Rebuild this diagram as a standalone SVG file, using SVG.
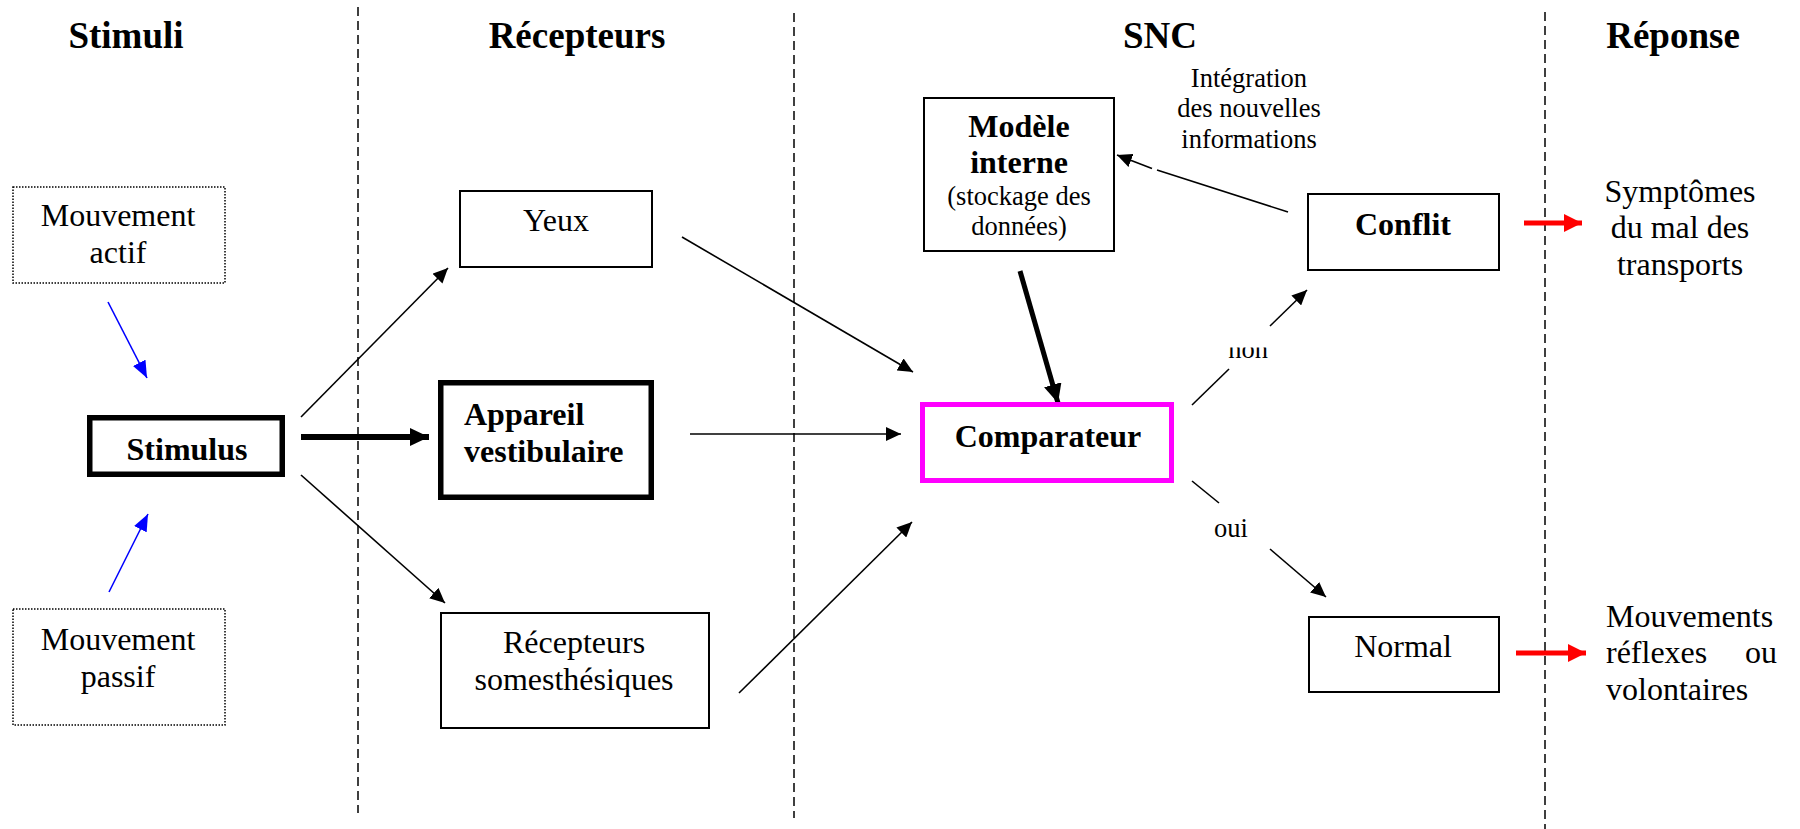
<svg xmlns="http://www.w3.org/2000/svg" width="1800" height="829" viewBox="0 0 1800 829">
  <style>
    text { font-family: "Liberation Serif", "Times New Roman", serif; fill: #000; }
    .head { font-size: 37px; font-weight: bold; text-anchor: middle; }
    .t { font-size: 32px; text-anchor: middle; }
    .b { font-size: 32px; font-weight: bold; text-anchor: middle; }
    .s { font-size: 26.5px; text-anchor: middle; }
    .box { fill: #fff; stroke: #000; stroke-width: 2; }
    .thick { fill: #fff; stroke: #000; stroke-width: 5.5; }
    .dotted { fill: #fff; stroke: #000; stroke-width: 1.5; stroke-dasharray: 1.5 1.5; }
    .sep { stroke: #000; stroke-width: 1.5; stroke-dasharray: 9 5; fill: none; }
    .ln { stroke: #000; stroke-width: 1.6; fill: none; }
  </style>
  <defs>
    <marker id="ah" markerUnits="userSpaceOnUse" markerWidth="16" markerHeight="14" refX="15" refY="7" orient="auto">
      <path d="M0,0 L15,7 L0,14 z" fill="#000"/>
    </marker>
    <marker id="ahBig" markerUnits="userSpaceOnUse" markerWidth="20" markerHeight="18" refX="19" refY="9" orient="auto">
      <path d="M0,0 L19,9 L0,18 z" fill="#000"/>
    </marker>
    <marker id="ahBlue" markerUnits="userSpaceOnUse" markerWidth="18" markerHeight="14" refX="17" refY="7" orient="auto">
      <path d="M0,0 L17,7 L0,14 z" fill="#0000ff"/>
    </marker>
    <marker id="ahRed" markerUnits="userSpaceOnUse" markerWidth="19" markerHeight="19" refX="18" refY="9" orient="auto">
      <path d="M0,0 L18,9 L0,18 z" fill="#ff0000"/>
    </marker>
    <clipPath id="clipNon">
      <rect x="1220" y="347.5" width="60" height="20"/>
    </clipPath>
  </defs>

  <rect width="1800" height="829" fill="#fff"/>

  <!-- column separators -->
  <g id="separators">
    <line class="sep" x1="358" y1="7" x2="358" y2="813"/>
    <line class="sep" x1="794" y1="13" x2="794" y2="818"/>
    <line class="sep" x1="1545" y1="12" x2="1545" y2="829"/>
  </g>

  <!-- column headings -->
  <g id="headings">
    <text class="head" x="126" y="48">Stimuli</text>
    <text class="head" x="577" y="48">Récepteurs</text>
    <text class="head" x="1160" y="48">SNC</text>
    <text class="head" x="1673" y="48">Réponse</text>
  </g>

  <!-- connectors -->
  <g id="connectors">
    <line x1="108" y1="302" x2="147" y2="378" stroke="#0000ff" stroke-width="1.6" marker-end="url(#ahBlue)"/>
    <line x1="109" y1="592" x2="148" y2="514" stroke="#0000ff" stroke-width="1.6" marker-end="url(#ahBlue)"/>
    <line class="ln" x1="301" y1="417" x2="448" y2="268" marker-end="url(#ah)"/>
    <line x1="301" y1="437" x2="429" y2="437" stroke="#000" stroke-width="6" marker-end="url(#ahBig)"/>
    <line class="ln" x1="301" y1="475" x2="445" y2="603" marker-end="url(#ah)"/>
    <line class="ln" x1="682" y1="237" x2="913" y2="372" marker-end="url(#ah)"/>
    <line class="ln" x1="690" y1="434" x2="901" y2="434" marker-end="url(#ah)"/>
    <line class="ln" x1="739" y1="693" x2="912" y2="522" marker-end="url(#ah)"/>
    <line x1="1020" y1="271" x2="1058" y2="403" stroke="#000" stroke-width="5" marker-end="url(#ahBig)"/>
    <line class="ln" x1="1288" y1="212" x2="1157" y2="170"/>
    <line class="ln" x1="1152" y1="168.5" x2="1117" y2="155" marker-end="url(#ah)"/>
    <line class="ln" x1="1192" y1="405" x2="1229" y2="369"/>
    <line class="ln" x1="1270" y1="326" x2="1307" y2="290" marker-end="url(#ah)"/>
    <line class="ln" x1="1192" y1="481" x2="1219" y2="503"/>
    <line class="ln" x1="1270" y1="549" x2="1326" y2="597" marker-end="url(#ah)"/>
    <line x1="1524" y1="223" x2="1582" y2="223" stroke="#ff0000" stroke-width="5" marker-end="url(#ahRed)"/>
    <line x1="1516" y1="653" x2="1586" y2="653" stroke="#ff0000" stroke-width="5" marker-end="url(#ahRed)"/>
    <text class="s" x="1248" y="358" clip-path="url(#clipNon)">non</text>
    <text class="s" x="1231" y="537">oui</text>
    <text class="s" x="1249" y="87">Intégration</text>
    <text class="s" x="1249" y="117">des nouvelles</text>
    <text class="s" x="1249" y="148">informations</text>
  </g>

  <!-- stimuli column -->
  <g id="mouvement-actif">
    <rect class="dotted" x="13" y="187" width="212" height="96"/>
    <text class="t" x="118" y="226">Mouvement</text>
    <text class="t" x="118" y="263">actif</text>
  </g>
  <g id="stimulus">
    <rect class="thick" x="89.75" y="417.75" width="192.5" height="56.5"/>
    <text class="b" x="187" y="460">Stimulus</text>
  </g>
  <g id="mouvement-passif">
    <rect class="dotted" x="13" y="609" width="212" height="116"/>
    <text class="t" x="118" y="650">Mouvement</text>
    <text class="t" x="118" y="687">passif</text>
  </g>

  <!-- receptors column -->
  <g id="yeux">
    <rect class="box" x="460" y="191" width="192" height="76"/>
    <text class="t" x="556" y="231">Yeux</text>
  </g>
  <g id="appareil-vestibulaire">
    <rect class="thick" x="440.75" y="382.75" width="210.5" height="114.5"/>
    <text class="b" x="464" y="425" style="text-anchor:start">Appareil</text>
    <text class="b" x="464" y="462" style="text-anchor:start">vestibulaire</text>
  </g>
  <g id="recepteurs-somesthesiques">
    <rect class="box" x="441" y="613" width="268" height="115"/>
    <text class="t" x="574" y="653">Récepteurs</text>
    <text class="t" x="574" y="690">somesthésiques</text>
  </g>

  <!-- central nervous system column -->
  <g id="modele-interne">
    <rect class="box" x="924" y="98" width="190" height="153"/>
    <text class="b" x="1019" y="137">Modèle</text>
    <text class="b" x="1019" y="173">interne</text>
    <text class="s" x="1019" y="205">(stockage des</text>
    <text class="s" x="1019" y="235">données)</text>
  </g>
  <g id="comparateur">
    <rect x="922.5" y="404.5" width="249" height="76" fill="#fff" stroke="#ff00ff" stroke-width="5"/>
    <text class="b" x="1048" y="447">Comparateur</text>
  </g>
  <g id="conflit">
    <rect class="box" x="1308" y="194" width="191" height="76"/>
    <text class="b" x="1403" y="235">Conflit</text>
  </g>
  <g id="normal">
    <rect class="box" x="1309" y="617" width="190" height="75"/>
    <text class="t" x="1403" y="657">Normal</text>
  </g>

  <!-- response column -->
  <g id="symptomes">
    <text class="t" x="1680" y="202">Symptômes</text>
    <text class="t" x="1680" y="238">du mal des</text>
    <text class="t" x="1680" y="275">transports</text>
  </g>
  <g id="mouvements-reflexes">
    <text class="t" x="1606" y="627" style="text-anchor:start">Mouvements</text>
    <text class="t" x="1606" y="663" style="text-anchor:start">réflexes</text>
    <text class="t" x="1777" y="663" style="text-anchor:end">ou</text>
    <text class="t" x="1606" y="700" style="text-anchor:start">volontaires</text>
  </g>
</svg>
